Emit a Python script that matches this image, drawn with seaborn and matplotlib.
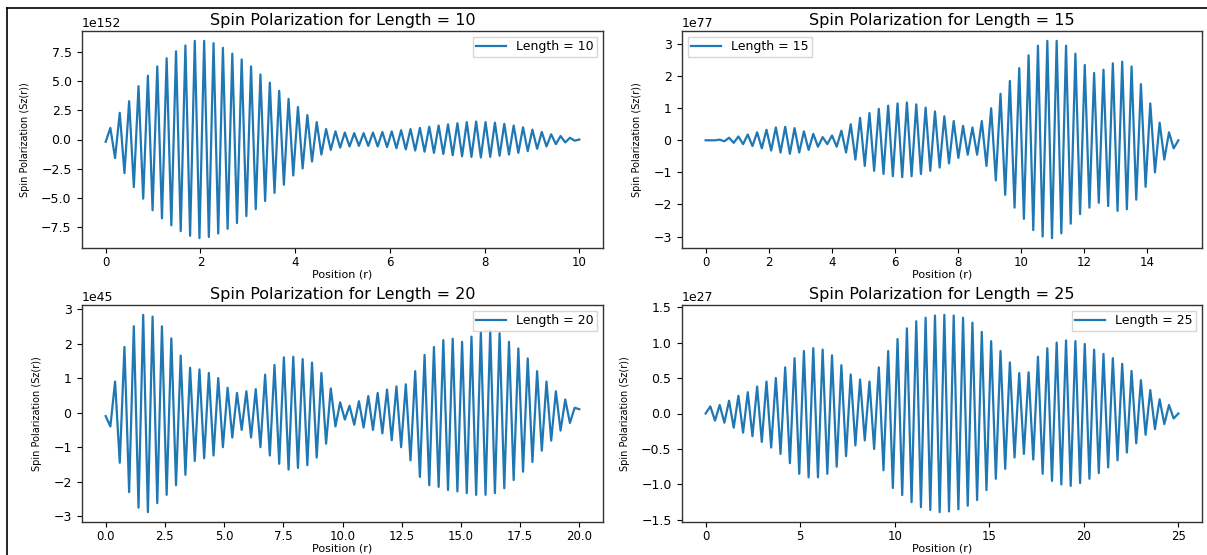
import numpy as np
import pandas as pd
import matplotlib
matplotlib.use("Agg")
import matplotlib.pyplot as plt
import seaborn as sns

# ---------------- data ----------------
lengths = [10, 15, 20, 25]
scales = [1e152, 1e77, 1e45, 1e27]
titles = ["Spin Polarization for Length = 10", "Spin Polarization for Length = 15",
          "Spin Polarization for Length = 20", "Spin Polarization for Length = 25"]
legend_labels = ["Length = 10", "Length = 15", "Length = 20", "Length = 25"]
legend_locs = ["upper right", "upper left", "upper right", "upper right"]
xlabel = "Position (r)"
ylabel = "Spin Polarization (Sz(r))"

# successive extrema (start value, 100 alternating extrema, end value), in units of the axis offset
sp_len10 = [-0.2,
            1.0, -1.6, 2.3, -2.9, 3.3, -4.1, 4.6, -5.1, 5.5, -6.1,
            6.3, -6.8, 7.0, -7.4, 7.6, -7.9, 8.1, -8.3, 8.5, -8.5,
            8.5, -8.4, 8.3, -8.1, 7.9, -7.7, 7.4, -7.2, 6.9, -6.6,
            6.3, -6.0, 5.6, -5.3, 4.9, -4.6, 4.2, -3.9, 3.5, -3.1,
            2.8, -2.5, 2.1, -1.9, 1.5, -1.3, 0.9, -0.9, 0.7, -0.7,
            0.6, -0.6, 0.55, -0.55, 0.55, -0.55, 0.6, -0.6, 0.65, -0.65,
            0.7, -0.75, 0.8, -0.85, 0.9, -0.95, 1.0, -1.05, 1.1, -1.15,
            1.2, -1.25, 1.3, -1.35, 1.4, -1.45, 1.5, -1.5, 1.55, -1.55,
            1.5, -1.5, 1.45, -1.4, 1.35, -1.3, 1.2, -1.15, 1.05, -1.0,
            0.85, -0.8, 0.65, -0.6, 0.45, -0.4, 0.3, -0.25, 0.15, -0.1,
            0.0]

sp_len15 = [0.0,
            0.0, -0.0, 0.02, -0.03, 0.08, -0.08, 0.12, -0.12, 0.18, -0.18,
            0.25, -0.25, 0.33, -0.32, 0.4, -0.38, 0.42, -0.42, 0.38, -0.38,
            0.28, -0.3, 0.2, -0.2, 0.1, -0.12, 0.15, -0.2, 0.3, -0.38,
            0.5, -0.6, 0.7, -0.8, 0.85, -0.95, 0.98, -1.05, 1.08, -1.12,
            1.15, -1.15, 1.18, -1.12, 1.12, -1.05, 1.02, -0.95, 0.9, -0.85,
            0.75, -0.72, 0.6, -0.55, 0.45, -0.45, 0.4, -0.45, 0.6, -0.8,
            1.0, -1.25, 1.45, -1.7, 1.85, -2.1, 2.25, -2.45, 2.65, -2.8,
            2.95, -3.0, 3.1, -3.05, 3.1, -2.9, 2.95, -2.6, 2.7, -2.3,
            2.35, -2.1, 2.1, -1.95, 2.2, -2.05, 2.4, -2.2, 2.45, -2.15,
            2.3, -1.85, 1.75, -1.45, 1.15, -1.0, 0.55, -0.6, 0.25, -0.25,
            0.0]

sp_len20 = [-0.1,
            -0.4, 0.9, -1.45, 1.9, -2.3, 2.5, -2.75, 2.83, -2.88, 2.78,
            -2.62, 2.5, -2.38, 2.15, -2.1, 1.65, -1.8, 1.3, -1.4, 1.25,
            -1.32, 1.15, -1.24, 1.0, -1.0, 0.72, -0.72, 0.57, -0.5, 0.62,
            -0.72, 0.68, -1.0, 1.1, -1.24, 1.38, -1.48, 1.6, -1.65, 1.62,
            -1.6, 1.55, -1.52, 1.45, -1.3, 1.15, -0.9, 0.7, -0.4, 0.3,
            -0.2, 0.2, -0.35, 0.33, -0.43, 0.48, -0.5, 0.57, -0.6, 0.67,
            -0.8, 0.76, -1.0, 0.82, -1.38, 1.2, -1.86, 1.67, -2.1, 1.9,
            -2.15, 2.1, -2.24, 2.14, -2.28, 2.05, -2.33, 2.2, -2.38, 2.33,
            -2.38, 2.38, -2.33, 2.3, -2.19, 2.05, -1.95, 1.86, -1.71, 1.57,
            -1.43, 1.2, -1.1, 0.9, -0.81, 0.62, -0.52, 0.38, -0.3, 0.14,
            0.1]

sp_len25 = [0.0,
            0.1, -0.1, 0.12, -0.13, 0.18, -0.2, 0.25, -0.27, 0.3, -0.32,
            0.38, -0.4, 0.45, -0.48, 0.5, -0.57, 0.65, -0.7, 0.78, -0.85,
            0.88, -0.9, 0.92, -0.9, 0.9, -0.85, 0.82, -0.75, 0.68, -0.6,
            0.55, -0.45, 0.48, -0.38, 0.45, -0.5, 0.65, -0.8, 0.88, -1.05,
            1.05, -1.15, 1.2, -1.25, 1.3, -1.32, 1.35, -1.36, 1.38, -1.39,
            1.39, -1.38, 1.38, -1.35, 1.35, -1.3, 1.28, -1.22, 1.15, -1.08,
            1.02, -0.92, 0.88, -0.78, 0.72, -0.62, 0.57, -0.57, 0.58, -0.65,
            0.8, -0.85, 0.92, -0.95, 1.0, -1.0, 1.03, -1.02, 1.02, -0.98,
            0.98, -0.92, 0.9, -0.84, 0.84, -0.76, 0.78, -0.66, 0.7, -0.55,
            0.6, -0.42, 0.47, -0.3, 0.33, -0.22, 0.2, -0.15, 0.12, -0.07,
            0.0]

series = [sp_len10, sp_len15, sp_len20, sp_len25]

# ---------------- figure ----------------
W, H = 1207, 555
fig = plt.figure(figsize=(W / 100, H / 100), dpi=100)

# axes boxes in pixels: (left, top, right, bottom)
boxes = [(82, 31, 603, 248), (682, 31, 1202, 248),
         (82, 305, 603, 522), (682, 305, 1202, 522)]

for i, (L, sc, vals) in enumerate(zip(lengths, scales, series)):
    l, t, r, b = boxes[i]
    ax = fig.add_axes([l / W, 1 - b / H, (r - l) / W, (b - t) / H])
    vals = np.asarray(vals, dtype=float)
    df = pd.DataFrame({"r": np.linspace(0, L, len(vals)), "s": vals * sc})
    sns.lineplot(data=df, x="r", y="s", ax=ax, color="#1f77b4", linewidth=1.6,
                 label=legend_labels[i])
    ax.set_title(titles[i], fontsize=11.5, pad=4)
    ax.set_xlabel(xlabel, fontsize=8, labelpad=0)
    ax.set_ylabel(ylabel, fontsize=7, labelpad=8)
    ax.tick_params(axis="y", labelsize=9, length=3.5, pad=4)
    ax.tick_params(axis="x", labelsize=8.5, length=3.5, pad=2.5)
    ax.yaxis.get_offset_text().set_fontsize(9)
    ax.legend(loc=legend_locs[i], fontsize=9, handlelength=2.4, handletextpad=0.8,
              borderpad=0.25, labelspacing=0.2, borderaxespad=0.5,
              fancybox=False, framealpha=0.8)
    for s in ax.spines.values():
        s.set_linewidth(1.0)
        s.set_color("#333333")

# outer frame of the screenshot
fig.add_artist(plt.Line2D([7 / W, 7 / W], [0, 1 - 8 / H], transform=fig.transFigure,
                          color="black", linewidth=1.2))
fig.add_artist(plt.Line2D([7 / W, 1], [1 - 8 / H, 1 - 8 / H], transform=fig.transFigure,
                          color="black", linewidth=1.2))

fig.savefig("out.png", dpi=100)
